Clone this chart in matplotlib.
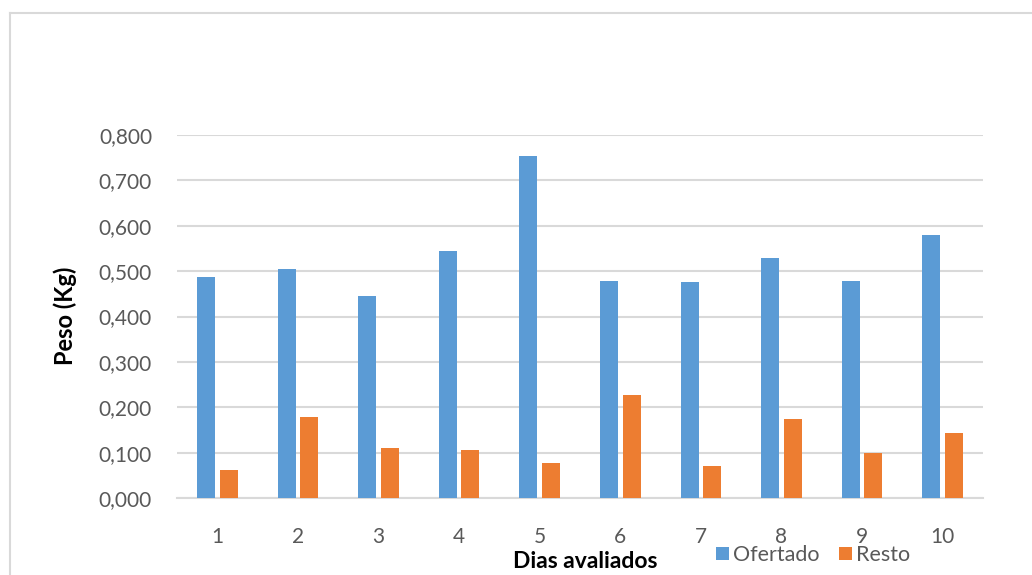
import matplotlib.pyplot as plt
from matplotlib.lines import Line2D
import numpy as np

dias = ['1', '2', '3', '4', '5', '6', '7', '8', '9', '10']
ofertado = [0.486, 0.504, 0.445, 0.544, 0.754, 0.478, 0.476, 0.529, 0.478, 0.580]
resto = [0.062, 0.179, 0.110, 0.106, 0.077, 0.227, 0.071, 0.174, 0.099, 0.143]
yticks = [0.0, 0.1, 0.2, 0.3, 0.4, 0.5, 0.6, 0.7, 0.8]

plt.rcParams['font.family'] = ['Lato', 'DejaVu Sans']

fig = plt.figure(figsize=(10.32, 5.75), dpi=100)
ax = fig.add_axes([177/1032, 1 - 498/575, (983 - 177)/1032, (498 - 135)/575])

x = np.arange(len(dias))
w = 0.223
gap = 0.057
ax.bar(x - (w + gap)/2, ofertado, width=w, color='#5B9BD5', label='Ofertado', zorder=3)
ax.bar(x + (w + gap)/2, resto, width=w, color='#ED7D31', label='Resto', zorder=3)

ax.set_xlim(-0.5, len(dias) - 0.5)
ax.set_ylim(0, 0.8)
ax.set_yticks(yticks)
ax.set_yticklabels([f"{v:.3f}".replace('.', ',') for v in yticks])
ax.set_xticks(x)
ax.set_xticklabels(dias)
ax.yaxis.grid(True, color='#d9d9d9', linewidth=1.5, zorder=0)
for s in ['top', 'right', 'left']:
    ax.spines[s].set_visible(False)
ax.spines['bottom'].set_color('#d9d9d9')
ax.spines['bottom'].set_linewidth(1.5)
ax.tick_params(axis='both', length=0, labelsize=15, labelcolor='#595959')
ax.tick_params(axis='x', pad=21)
ax.tick_params(axis='y', pad=18)

fig.text(65/1032, 1 - 316/575, 'Peso (Kg)', rotation=90, ha='center', va='center',
         fontsize=17, fontweight='bold')
fig.text(585/1032, 1 - 561/575, 'Dias avaliados', ha='center', va='center',
         fontsize=16.5, fontweight='bold')

fig.legend(loc='center left', bbox_to_anchor=(716/1032, 1 - 555/575), ncol=2,
           frameon=False, fontsize=15.5, handlelength=0.6, handleheight=0.6,
           handletextpad=0.2, columnspacing=0.9, borderpad=0, borderaxespad=0,
           labelcolor='#595959')

# outer chart border
fig.add_artist(Line2D([10/1032, 1], [1 - 13/575, 1 - 13/575], color='#d9d9d9', lw=1.5))
fig.add_artist(Line2D([10/1032, 10/1032], [0, 1 - 13/575], color='#d9d9d9', lw=1.5))

fig.savefig('out.png', dpi=100)
